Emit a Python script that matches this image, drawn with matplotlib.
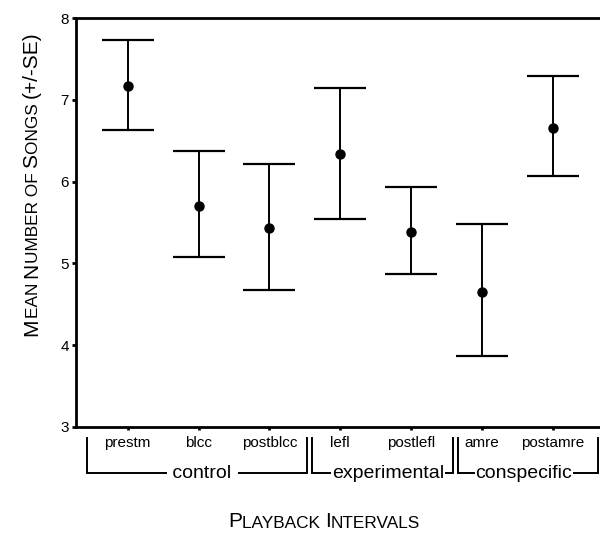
import matplotlib
matplotlib.use('Agg')
import matplotlib.pyplot as plt
import numpy as np

# ---- data ----
categories = ['prestm', 'blcc', 'postblcc', 'lefl', 'postlefl', 'amre', 'postamre']
means = [7.17, 5.70, 5.43, 6.34, 5.38, 4.65, 6.66]
upper = [7.73, 6.37, 6.22, 7.14, 5.93, 5.48, 7.29]
lower = [6.63, 5.08, 4.68, 5.54, 4.87, 3.87, 6.07]
groups = ['control', 'experimental', 'conspecific']
group_edges = [(0.43, 3.53), (3.60, 5.59), (5.66, 7.64)]
group_label_x = [2.05, 4.67, 6.59]
yticks = [3, 4, 5, 6, 7, 8]

plt.rcParams['font.family'] = ['Liberation Sans', 'DejaVu Sans']

W, H = 600, 537
fig = plt.figure(figsize=(W / 100, H / 100), dpi=100)
ax = fig.add_axes([76 / W, 110 / H, 524 / W, 409 / H])

x = np.arange(1, len(categories) + 1)
m = np.array(means)
yerr = [m - np.array(lower), np.array(upper) - m]
ax.errorbar(x, m, yerr=yerr, fmt='o', color='black', ms=6.5,
            capsize=18.7, elinewidth=1.4, capthick=1.6, clip_on=False)

ax.set_xlim(0.271, 7.664)
ax.set_ylim(3, 8)
ax.set_yticks(yticks)
ax.set_yticklabels([str(t) for t in yticks], fontsize=11)
ax.set_xticks(x)
ax.set_xticklabels(categories, fontsize=11)
ax.tick_params(axis='y', length=3, width=2, pad=2)
ax.tick_params(axis='x', length=2.5, width=2, pad=4)
for s in ['left', 'top', 'bottom']:
    ax.spines[s].set_linewidth(2)
ax.spines['right'].set_visible(False)

# group brackets
trans = ax.get_xaxis_transform()
y_top, y_bot = -0.027, -0.1125
for (l, r), g, gx in zip(group_edges, groups, group_label_x):
    ax.plot([l, l, r, r], [y_top, y_bot, y_bot, y_top], color='black',
            lw=1.4, transform=trans, clip_on=False, solid_joinstyle='miter')
    label = ' ' + g + ' ' if g == 'control' else g
    ax.text(gx, y_bot, label, transform=trans, ha='center', va='center',
            fontsize=14, bbox=dict(facecolor='white', edgecolor='none', pad=0.6))

# small caps helpers
BIG, SMALL = 15, 12.4

def smallcaps_h(parts, x0, y0):
    prev = None
    for txt, big in parts:
        fs = BIG if big else SMALL
        if prev is None:
            prev = fig.text(x0, y0, txt, fontsize=fs, ha='left', va='bottom')
        else:
            prev = fig.add_artist(plt.Annotation(txt, xy=(1, 0), xycoords=prev,
                                                 fontsize=fs, ha='left', va='bottom'))

def smallcaps_v(parts, x0, y0):
    prev = None
    for txt, big in parts:
        fs = BIG if big else SMALL
        if prev is None:
            prev = fig.text(x0, y0, txt, fontsize=fs, ha='right', va='bottom', rotation=90)
        else:
            prev = fig.add_artist(plt.Annotation(txt, xy=(1, 1), xycoords=prev,
                                                 fontsize=fs, ha='right', va='bottom',
                                                 rotation=90))

smallcaps_h([('P', True), ('LAYBACK ', False), ('I', True), ('NTERVALS', False)],
            228 / W, (H - 531) / H)
smallcaps_v([('M', True), ('EAN ', False), ('N', True), ('UMBER OF ', False),
             ('S', True), ('ONGS ', False), ('(+/-SE)', True)],
            41 / W, (H - 336) / H)

fig.savefig('out.png', dpi=100)
